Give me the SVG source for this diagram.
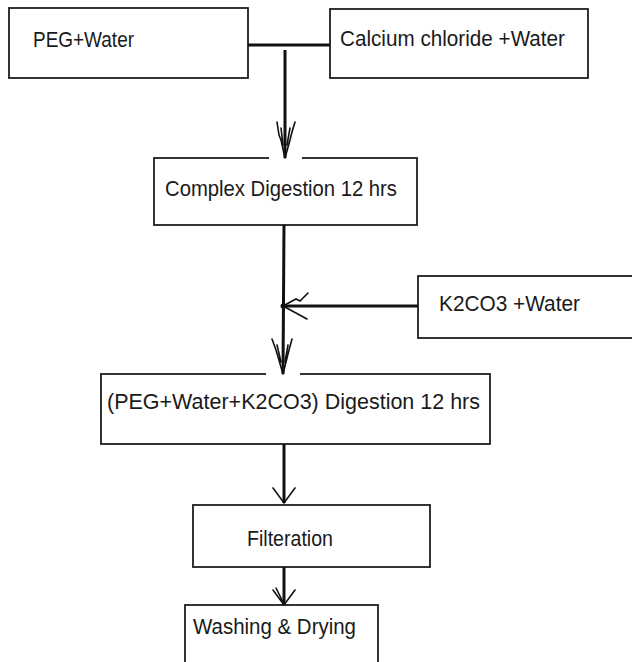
<svg xmlns="http://www.w3.org/2000/svg" width="632" height="662" viewBox="0 0 632 662">
<style>
.box{fill:#fff;stroke:#1e1e1e;stroke-width:1.8}
.gap{stroke:#fff;stroke-width:4}
.t{font-family:"Liberation Sans",Arial,sans-serif;font-size:22px;fill:#1a1a1a}
.ln{stroke:#111;stroke-width:3;fill:none}
.ah{stroke:#111;stroke-width:1.6;fill:none;stroke-linecap:round}
</style>
<rect width="632" height="662" fill="#fff"/>
<g id="n1"><rect class="box" x="9" y="8" width="239" height="70"/><text class="t" x="33" y="47" textLength="101" lengthAdjust="spacingAndGlyphs">PEG+Water</text></g>
<g id="n2"><rect class="box" x="330" y="9" width="258" height="69"/><text class="t" x="340" y="46" textLength="225" lengthAdjust="spacingAndGlyphs">Calcium chloride +Water</text></g>
<g id="n3"><rect class="box" x="154" y="158" width="263" height="67"/><line class="gap" x1="269" y1="158" x2="302" y2="158"/><text class="t" x="165" y="196" textLength="232" lengthAdjust="spacingAndGlyphs">Complex Digestion 12 hrs</text></g>
<g id="n4"><rect class="box" x="418" y="276" width="230" height="62"/><text class="t" x="439" y="311" textLength="141" lengthAdjust="spacingAndGlyphs">K2CO3 +Water</text></g>
<g id="n5"><rect class="box" x="101" y="374" width="389" height="70"/><line class="gap" x1="266" y1="374" x2="300" y2="374"/><text class="t" x="107" y="409" textLength="373" lengthAdjust="spacingAndGlyphs">(PEG+Water+K2CO3) Digestion 12 hrs</text></g>
<g id="n6"><rect class="box" x="193" y="505" width="237" height="62"/><text class="t" x="247" y="546" textLength="86" lengthAdjust="spacingAndGlyphs">Filteration</text></g>
<g id="n7"><rect class="box" x="185" y="605" width="193" height="70"/><text class="t" x="193" y="634" textLength="163" lengthAdjust="spacingAndGlyphs">Washing &amp; Drying</text></g>
<g id="connectors">
<line class="ln" x1="248" y1="45" x2="330" y2="45"/>
<line class="ln" x1="285" y1="50" x2="285" y2="158"/>
<path class="ah" d="M277 122 L279 135 L281 140 L285 158 M295 122 L292 132 L290 140 L285 158 M281 128 L283 145 M290 128 L287 145"/>
<line class="ln" x1="284" y1="225" x2="283" y2="374"/>
<line class="ln" x1="283" y1="306" x2="418" y2="306"/>
<circle cx="283" cy="306" r="2.5" fill="#111"/>
<path class="ah" d="M283 306 L296 299 L300 301 L308 293 M283 306 L307 319"/>
<path class="ah" d="M272 339 L276 350 L283 374 M292 339 L289 350 L283 374 M277 345 L281 362 M288 345 L285 362"/>
<line class="ln" x1="284" y1="444" x2="284" y2="503"/>
<path class="ah" d="M273 488 L284 503 L295 488"/>
<line class="ln" x1="284" y1="567" x2="284" y2="605"/>
<path class="ah" d="M273 590 L284 605 L295 590 M276 588 L283 602"/>
</g>
</svg>
